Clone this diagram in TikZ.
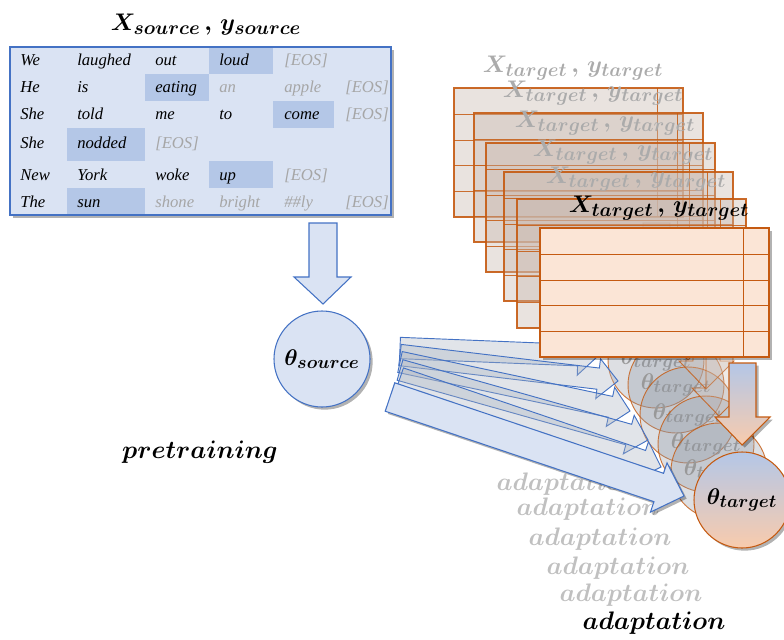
\RequirePackage{fix-cm}
\documentclass[tikz,border=0pt]{standalone}
\usepackage{fontspec}
\setmainfont{Liberation Serif}
\usepackage{bm}
\usetikzlibrary{calc,shadows}
\DeclareMathSizes{18}{18}{14.5}{11}
\DeclareMathSizes{17}{17}{13.5}{10}
\DeclareMathSizes{19}{19}{15}{11}

\definecolor{srcfill}{HTML}{DAE3F3}
\definecolor{srchi}{HTML}{B4C7E7}
\definecolor{blueline}{HTML}{4472C4}
\definecolor{tgtfill}{HTML}{FBE5D6}
\definecolor{tgtline}{HTML}{C55A11}
\definecolor{peach}{HTML}{F8CBAD}
\definecolor{eosgray}{HTML}{A6A6A6}
\definecolor{ghosttext}{HTML}{ABABAB}
\definecolor{ghostlabel}{HTML}{999999}
\definecolor{ghostadapt}{HTML}{C0C0C0}
\definecolor{ghostfill}{HTML}{C9B9B0}
\definecolor{ghostcirc}{HTML}{8F96A3}
\definecolor{ghostarrow}{HTML}{A9B2C0}

\newcommand\srcpair{$\bm{X}_{\bm{source}}\,\bm{,}\,\bm{y}_{\bm{source}}$}
\newcommand\tgtpair{$\bm{X}_{\bm{target}}\,\bm{,}\,\bm{y}_{\bm{target}}$}
\newcommand\thtgt{$\bm{\theta}_{\bm{target}}$}

% block arrow from tail point #1 to tip point #2:
% #3 style, #4 half shaft width, #5 half head width, #6 head length
\newcommand\blockarrow[6]{%
  \coordinate (#1-h) at ($(#2)!#6!(#1)$);
  \path[#3] ($(#1)!#4!90:(#2)$) -- ($(#1-h)!#4!-90:(#1)$)
    -- ($(#1-h)!#5!-90:(#1)$) -- (#2) -- ($(#1-h)!#5!90:(#1)$)
    -- ($(#1-h)!#4!90:(#1)$) -- ($(#1)!#4!-90:(#2)$) -- cycle;}

\tikzset{
  word/.style={anchor=base west, inner sep=0pt, font=\fontsize{12.5}{14}\selectfont\itshape},
  eos/.style={word, text=eosgray},
  bigmath/.style={inner sep=0pt, font=\fontsize{18}{22}\selectfont},
  thetafont/.style={font=\fontsize{17}{20}\selectfont},
  labeltext/.style={inner sep=0pt, font=\fontsize{19}{22}\selectfont},
  softshadow/.style={drop shadow={shadow xshift=2pt, shadow yshift=-2pt, opacity=0.3, fill=black}},
  srccircle/.style={circle, minimum size=72pt, inner sep=0pt, draw=blueline, line width=0.8pt,
    fill=srcfill, softshadow, thetafont},
  ghostcircle/.style={circle, minimum size=72pt, inner sep=0pt, draw=tgtline, draw opacity=0.8,
    line width=0.7pt, fill=ghostcirc, fill opacity=0.3, text opacity=1, text=ghostlabel, thetafont},
  frontcircle/.style={circle, minimum size=72pt, inner sep=0pt, draw=tgtline, line width=0.8pt,
    top color=srchi, bottom color=peach, softshadow, thetafont},
  ghostdown/.style={draw=tgtline, draw opacity=0.8, line width=0.7pt, fill=ghostfill, fill opacity=0.3},
  frontdown/.style={draw=tgtline, line width=0.8pt, top color=srchi, bottom color=peach, softshadow},
  srcdown/.style={draw=blueline, line width=0.8pt, fill=srcfill},
  ghostblue/.style={draw=blueline, line width=0.7pt, fill=ghostarrow, fill opacity=0.35},
  frontblue/.style={draw=blueline, line width=0.8pt, fill=srcfill, softshadow},
  ghosttable/.style={draw=tgtline, draw opacity=0.9, line width=0.8pt, fill=ghostfill, fill opacity=0.4},
  fronttable/.style={draw=tgtline, line width=0.9pt, fill=tgtfill, softshadow},
  rowline/.style={draw=tgtline, line width=0.7pt},
}

\begin{document}
\begin{tikzpicture}[x=0.75pt, y=-0.75pt]
\useasboundingbox (0,0) rectangle (784,639);
\clip (0,0) rectangle (784,639);

% ---------- source corpus ----------
\node[bigmath] (srctitle) at (206,25) {\srcpair};
\path[fill=srcfill, softshadow] (10,47) rectangle (391,215);
\fill[srchi] (209,47) rectangle (273,74);
\fill[srchi] (145,74) rectangle (209,101);
\fill[srchi] (273,101) rectangle (334,128);
\fill[srchi] (67,128) rectangle (145,161);
\fill[srchi] (209,161) rectangle (273,188);
\fill[srchi] (67,188) rectangle (145,215);
\draw[blueline, line width=1pt] (10,47) rectangle (391,215);

\foreach \x/\y/\t [count=\i] in {
  20/65/We, 77/65/laughed, 155/65/out, 219/65/loud,
  20/92/He, 77/92/is, 155/92/eating,
  20/119/She, 77/119/told, 155/119/me, 219/119/to, 284/119/come,
  20/148/She, 77/148/nodded,
  20/180/New, 77/180/York, 155/180/woke, 219/180/up,
  20/207/The, 77/207/sun}
  \node[word] (w\i) at (\x,\y) {\t};

\foreach \x/\y/\t [count=\i] in {
  284/65/{[EOS]},
  219/92/an, 284/92/apple, 345/92/{[EOS]},
  345/119/{[EOS]},
  155/148/{[EOS]},
  284/180/{[EOS]},
  155/207/shone, 219/207/bright, 284/207/\#\#ly, 345/207/{[EOS]}}
  \node[eos] (e\i) at (\x,\y) {\t};

% pretraining step
\path[srcdown] (309,223) -- (337,223) -- (337,277) -- (351,277) -- (323,304)
  -- (294,277) -- (309,277) -- cycle;
\node[srccircle] (thsrc) at (322,359) {$\bm{\theta}_{\bm{source}}$};
\node[labeltext] (pre) at (200,452) {$\bm{pretraining}$};

% ---------- earlier adaptation steps (faded) ----------
\foreach \L/\T/\k in {454/88/1, 474/113/2, 486/143/3, 504/172/4, 517/199/5}{
  \begin{scope}[shift={(\L,\T)}]
    \node[ghostcircle] (gc\k) at (202,272) {\thtgt};
    \path[ghostdown] (189,135) -- (216,135) -- (216,189) -- (230,189) -- (202,217)
      -- (175,189) -- (189,189) -- cycle;
  \end{scope}
}

\foreach \L/\T/\k/\ty in {454/88/1/348, 474/113/2/355, 486/143/3/362, 504/172/4/370, 517/199/5/378}{
  \coordinate (ga\k) at (400,\ty);
  \coordinate (gb\k) at ({\L+144},{\T+268});
  \blockarrow{ga\k}{gb\k}{ghostblue}{8pt}{15pt}{15pt}
}

\foreach \L/\T/\k in {454/88/1, 474/113/2, 486/143/3, 504/172/4, 517/199/5}
  \node[labeltext, text=ghostadapt] (ad\k) at ({\L+114},{\T+396}) {$\bm{adaptation}$};

\foreach \L/\T/\k in {454/88/1, 474/113/2, 486/143/3, 504/172/4, 517/199/5}{
  \begin{scope}[shift={(\L,\T)}]
    \node[bigmath, text=ghosttext] (tt\k) at (119,-20) {\tgtpair};
    \path[ghosttable] (0,0) rectangle (229,129);
    \foreach \r in {26,52,77,103} \draw[rowline, draw opacity=0.85] (0,\r) -- (229,\r);
    \draw[rowline, draw opacity=0.85] (203,0) -- (203,129);
  \end{scope}
}

% ---------- current adaptation step ----------
\begin{scope}[shift={(540,228)}]
  \node[bigmath] (tt6) at (119,-20) {\tgtpair};
  \path[fronttable] (0,0) rectangle (229,129);
  \foreach \r in {26,52,77,103} \draw[rowline] (0,\r) -- (229,\r);
  \draw[rowline] (203,0) -- (203,129);
  \path[frontdown] (189,135) -- (216,135) -- (216,189) -- (230,189) -- (202,217)
    -- (175,189) -- (189,189) -- cycle;
\end{scope}

\coordinate (fa) at (390,397);
\coordinate (fb) at (684,496);
\blockarrow{fa}{fb}{frontblue}{11.25pt}{19.5pt}{20pt}

\node[frontcircle] (thtgt) at (742,500) {\thtgt};
\node[labeltext] (ad6) at (654,623) {$\bm{adaptation}$};
\end{tikzpicture}
\end{document}
